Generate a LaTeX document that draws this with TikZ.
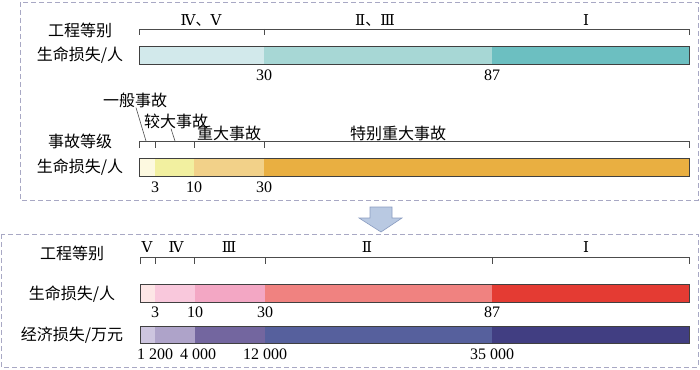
\documentclass[tikz,border=0pt]{standalone}
\usepackage{fontspec}
\setmainfont{Liberation Serif}
\newfontfamily\cjk{Noto Sans CJK SC}
\newfontfamily\romfont{DejaVu Serif}
\usetikzlibrary{positioning}

\definecolor{framegray}{HTML}{A8A8C4}
\definecolor{arrowfill}{HTML}{B9C9E2}
\definecolor{arrowedge}{HTML}{8A9CC0}
% teal bar
\definecolor{tealA}{HTML}{D2E9EB}
\definecolor{tealB}{HTML}{A7D7D5}
\definecolor{tealC}{HTML}{6CBFC1}
% accident bar
\definecolor{yelA}{HTML}{FDF9E0}
\definecolor{yelB}{HTML}{F2F0A0}
\definecolor{yelC}{HTML}{F2D189}
\definecolor{yelD}{HTML}{E9AF41}
% life bar
\definecolor{redA}{HTML}{FDE6E6}
\definecolor{redB}{HTML}{F9C8DC}
\definecolor{redC}{HTML}{F3A7C4}
\definecolor{redD}{HTML}{F08280}
\definecolor{redE}{HTML}{E43B33}
% economic bar
\definecolor{bluA}{HTML}{CDC5DF}
\definecolor{bluB}{HTML}{AEA3C9}
\definecolor{bluC}{HTML}{73669F}
\definecolor{bluD}{HTML}{56609D}
\definecolor{bluE}{HTML}{413E82}

\begin{document}
\begin{tikzpicture}[x=1pt,y=-1pt,
    lbl/.style={font=\cjk\fontsize{16}{16}\selectfont,inner sep=0pt},
    rom/.style={font=\romfont\fontsize{15}{15}\selectfont,inner sep=0pt},
    num/.style={font=\fontsize{16}{16}\selectfont,inner sep=0pt},
    bar/.style={draw=black!75,line width=0.9pt},
    brk/.style={draw=black!70,line width=0.8pt},
    frame/.style={draw=framegray,dashed,line width=0.9pt,dash pattern=on 5pt off 3pt}]
  \useasboundingbox (0,0) rectangle (700,369);

  % frames and arrow
  \draw[frame] (20,2) rectangle (698,200);
  \draw[frame] (1,234) rectangle (698,367);
  \draw[fill=arrowfill,draw=arrowedge,line width=0.6pt]
    (370,207) -- (392,207) -- (392,218) -- (402,218) -- (381,232)
    -- (359,218) -- (370,218) -- cycle;

  % ---- engineering grade (old) ----
  \node[lbl] (gradeA) at (80,30) {工程等别};
  \node[lbl] (lifeA) at (80,55) {生命损失/人};
  \draw[brk] (139,35) -- (139,29) -- (689,29) -- (689,35)
    (264,29) -- (264,35);
  \node[rom] (g45) at (201,20) {Ⅳ{\cjk 、}Ⅴ};
  \node[rom] (g23) at (375,20) {Ⅱ{\cjk 、}Ⅲ};
  \node[rom] (g1) at (586,20) {Ⅰ};
  \foreach \a/\b/\c in {139/264/tealA,264/492/tealB,492/689/tealC}
    \fill[\c] (\a,46) rectangle (\b,64);
  \draw[bar] (139,46) rectangle (689,64);
  \node[num] (vA30) at (264,75) {30};
  \node[num] (vA87) at (492,75) {87};

  % ---- accident grade ----
  \node[lbl] (accB) at (80,141) {事故等级};
  \node[lbl] (lifeB) at (80,167) {生命损失/人};
  \draw[brk] (139,148) -- (139,141) -- (689,141) -- (689,148);
  \foreach \t in {155,194,264}
    \draw[brk] (\t,141) -- (\t,148);
  \node[lbl] (acc1) at (135,100) {一般事故};
  \node[lbl] (acc2) at (176,121) {较大事故};
  \node[lbl] (acc3) at (229,133) {重大事故};
  \node[lbl] (acc4) at (398,133) {特别重大事故};
  \coordinate (m1) at (146,141);
  \coordinate (m2) at (175,141);
  \draw[brk,line width=0.6pt] (acc1.south) ++(1,0) -- (m1);
  \draw[brk,line width=0.6pt] (acc2.south) ++(-5,0) -- (m2);
  \foreach \a/\b/\c in {139/155/yelA,155/194/yelB,194/264/yelC,264/689/yelD}
    \fill[\c] (\a,158) rectangle (\b,176);
  \draw[bar] (139,158) rectangle (689,176);
  \node[num] (vB3) at (155,187) {3};
  \node[num] (vB10) at (194,187) {10};
  \node[num] (vB30) at (264,187) {30};

  % ---- engineering grade (new) ----
  \node[lbl] (gradeC) at (72,253) {工程等别};
  \node[lbl] (lifeC) at (72,294) {生命损失/人};
  \node[lbl] (ecoC) at (72,335) {经济损失/万元};
  \draw[brk] (140,264) -- (140,257) -- (689,257) -- (689,264);
  \foreach \t in {155,194,265,492}
    \draw[brk] (\t,257) -- (\t,264);
  \node[rom] (g5) at (147,247) {Ⅴ};
  \node[rom] (g4) at (176,247) {Ⅳ};
  \node[rom] (g3) at (229,247) {Ⅲ};
  \node[rom] (g2) at (367,247) {Ⅱ};
  \node[rom] (g1c) at (586,247) {Ⅰ};
  \foreach \a/\b/\c in {140/155/redA,155/195/redB,195/265/redC,265/492/redD,492/689/redE}
    \fill[\c] (\a,284) rectangle (\b,302);
  \draw[bar] (140,284) rectangle (689,302);
  \node[num] (vC3) at (155,312) {3};
  \node[num] (vC10) at (195,312) {10};
  \node[num] (vC30) at (265,312) {30};
  \node[num] (vC87) at (492,312) {87};
  \foreach \a/\b/\c in {140/155/bluA,155/195/bluB,195/265/bluC,265/492/bluD,492/689/bluE}
    \fill[\c] (\a,326) rectangle (\b,343);
  \draw[bar] (140,326) rectangle (689,343);
  \node[num] (vD1) at (155,354) {1 200};
  \node[num] (vD2) at (198,354) {4 000};
  \node[num] (vD3) at (265,354) {12 000};
  \node[num] (vD4) at (492,354) {35 000};
\end{tikzpicture}
\end{document}
